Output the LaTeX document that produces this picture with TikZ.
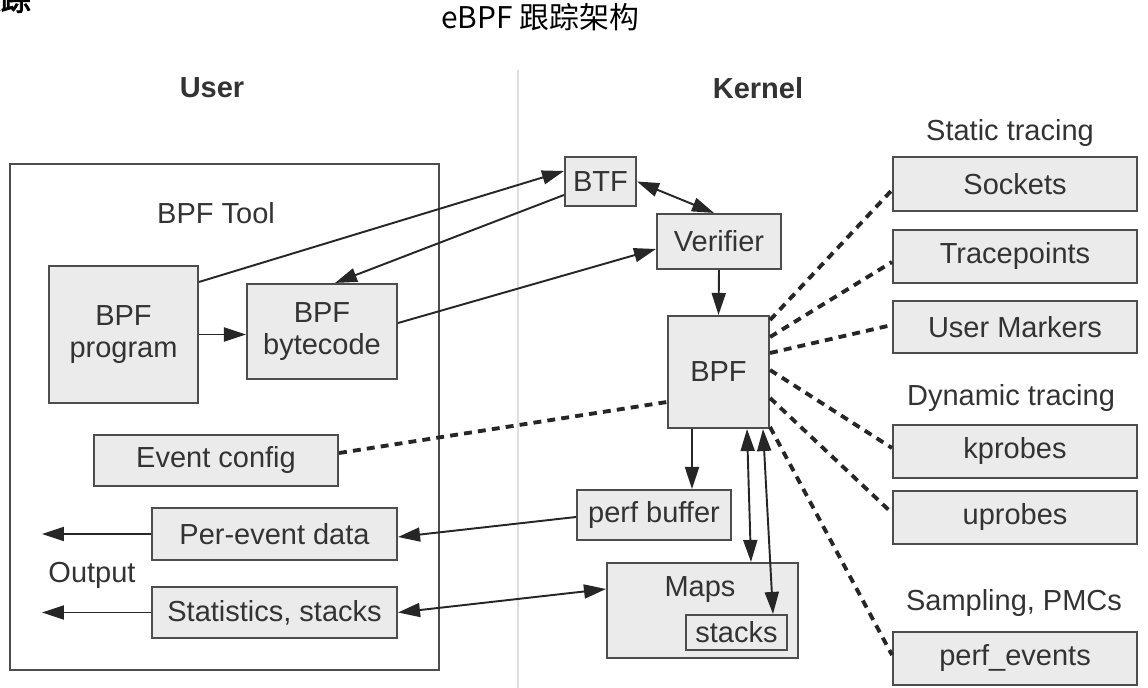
\documentclass[tikz,border=0pt]{standalone}
\usepackage{fontspec}
\setmainfont{Liberation Sans}
\newfontfamily\cjk[AutoFakeBold=3]{Noto Sans CJK SC}
\usetikzlibrary{arrows.meta}
\definecolor{boxgray}{HTML}{EBEBEB}
\definecolor{edgegray}{HTML}{4D4D4D}
\definecolor{txtgray}{HTML}{333333}

\begin{document}
\begin{tikzpicture}[x=0.02cm,y=-0.02cm,>={Triangle[length=4.4mm,width=2.8mm]},
    box/.style={draw=edgegray,line width=1.2pt,fill=boxgray,text=txtgray,align=center,
        inner sep=0pt,font=\fontsize{16.5}{18.5}\selectfont},
    lbl/.style={text=txtgray,font=\fontsize{16.5}{18}\selectfont},
    head/.style={text=txtgray,font=\bfseries\fontsize{16.5}{18}\selectfont},
    link/.style={line width=1.1pt,draw=black!85},
    probe/.style={line width=2.2pt,draw=black!85,dash pattern=on 4.5pt off 3.5pt}]
    \useasboundingbox (0,0) rectangle (1148,688);
    \clip (0,0) rectangle (1148,688);

    % titles
    \node[anchor=east,font=\cjk\bfseries\fontsize{17}{20}\selectfont] (cuttitle) at (37,-1) {跟踪};
    \node[font=\cjk\fontsize{17}{20}\selectfont] (title) at (540,17) {eBPF 跟踪架构};
    \draw[gray!25,line width=1.2pt] (518,70) -- (518,688);
    \node[head] (user) at (212,88) {User};
    \node[head] (kernel) at (758,88) {Kernel};

    % user side
    \node[draw=edgegray,line width=1.2pt,minimum width=8.58cm,minimum height=10.12cm] (tool) at (224.5,417) {};
    \node[lbl] (toolname) at (216,213) {BPF Tool};
    \node[box,minimum width=2.98cm,minimum height=2.74cm] (prog) at (123.5,334.5) {BPF\\program};
    \node[box,minimum width=3cm,minimum height=1.9cm] (bytecode) at (322,331.5) {BPF\\bytecode};
    \node[box,minimum width=4.88cm,minimum height=1.02cm] (evcfg) at (216,460.5) {Event config};
    \node[box,minimum width=4.9cm,minimum height=1.04cm] (perev) at (274.5,534) {Per-event data};
    \node[box,minimum width=4.9cm,minimum height=1.02cm] (stats) at (274.5,612.5) {Statistics, stacks};
    \node[lbl] (output) at (92,575) {Output};
    \coordinate (out1) at (42,534);
    \coordinate (out2) at (42,612.5);

    % kernel side
    \node[box,minimum width=1.42cm,minimum height=0.98cm] (btf) at (600.5,181.5) {BTF};
    \node[box,minimum width=2.48cm,minimum height=1.1cm] (verifier) at (719,241.5) {Verifier};
    \node[box,minimum width=2.02cm,minimum height=2.24cm] (bpf) at (718.5,372) {BPF};
    \node[box,minimum width=3.08cm,minimum height=1cm] (perfbuf) at (654,515) {perf buffer};
    \node[box,minimum width=3.82cm,minimum height=1.9cm] (maps) at (702.5,610.5) {};
    \node[lbl] (mapsname) at (700,590) {Maps};
    \node[box,minimum width=2.02cm,minimum height=0.7cm] (stacks) at (736.5,632.5) {stacks};

    % event sources
    \node[lbl] (static) at (1010,133) {Static tracing};
    \node[box,minimum width=4.88cm,minimum height=1.08cm] (sockets) at (1015,184) {Sockets};
    \node[box,minimum width=4.88cm,minimum height=1.06cm] (tracepts) at (1015,256.5) {Tracepoints};
    \node[box,minimum width=4.88cm,minimum height=1.04cm] (umarkers) at (1015,327) {User Markers};
    \node[lbl] (dynamic) at (1011,398) {Dynamic tracing};
    \node[box,minimum width=4.88cm,minimum height=1.06cm] (kprobes) at (1015,451.5) {kprobes};
    \node[box,minimum width=4.88cm,minimum height=1.06cm] (uprobes) at (1015,517.5) {uprobes};
    \node[lbl] (sampling) at (1014,603) {Sampling, PMCs};
    \node[box,minimum width=4.88cm,minimum height=1.06cm] (perfev) at (1015,658.5) {perf\_events};

    % arrows
    \draw[link,->] (prog.east) -- (prog.east -| bytecode.west);
    \draw[link,->] ([yshift=-0.34cm]prog.north east) -- ([yshift=0.21cm]btf.west);
    \draw[link,->] ([yshift=-0.27cm]btf.west) -- ([xshift=0.26cm]bytecode.north);
    \draw[link,->] ([yshift=0.17cm]bytecode.east) -- ([yshift=-0.15cm]verifier.west);
    \draw[link,<->] (btf.east) -- ([xshift=-0.1cm]verifier.north);
    \draw[link,->] (verifier.south) -- (bpf.north);
    \draw[link,->] ([xshift=-0.53cm]bpf.south) -- ([xshift=0.76cm]perfbuf.north);
    \draw[link,<->] ([xshift=0.57cm]bpf.south) -- ([xshift=0.97cm]maps.north);
    \draw[link,<->] ([xshift=0.89cm]bpf.south) -- ([xshift=0.73cm]stacks.north);
    \draw[link,->] ([yshift=-0.04cm]perfbuf.west) -- ([yshift=-0.06cm]perev.east);
    \draw[link,<->] (stats.east) -- ([yshift=0.43cm]maps.west);
    \draw[link,->] (perev.west) -- (out1);
    \draw[link,->] (stats.west) -- (out2);

    % probes
    \draw[probe] ([yshift=0.15cm]evcfg.east) -- ([yshift=-0.6cm]bpf.west);
    \draw[probe] ([yshift=1.04cm]bpf.east) -- ([yshift=-0.12cm]sockets.west);
    \draw[probe] ([yshift=0.7cm]bpf.east) -- ([yshift=-0.11cm]tracepts.west);
    \draw[probe] ([yshift=0.38cm]bpf.east) -- ([yshift=0.04cm]umarkers.west);
    \draw[probe] ([yshift=0.04cm]bpf.east) -- ([yshift=0.07cm]kprobes.west);
    \draw[probe] ([yshift=-0.52cm]bpf.east) -- ([yshift=0.09cm]uprobes.west);
    \draw[probe] ([yshift=-1.1cm]bpf.east) -- ([yshift=0.07cm]perfev.west);
\end{tikzpicture}
\end{document}
